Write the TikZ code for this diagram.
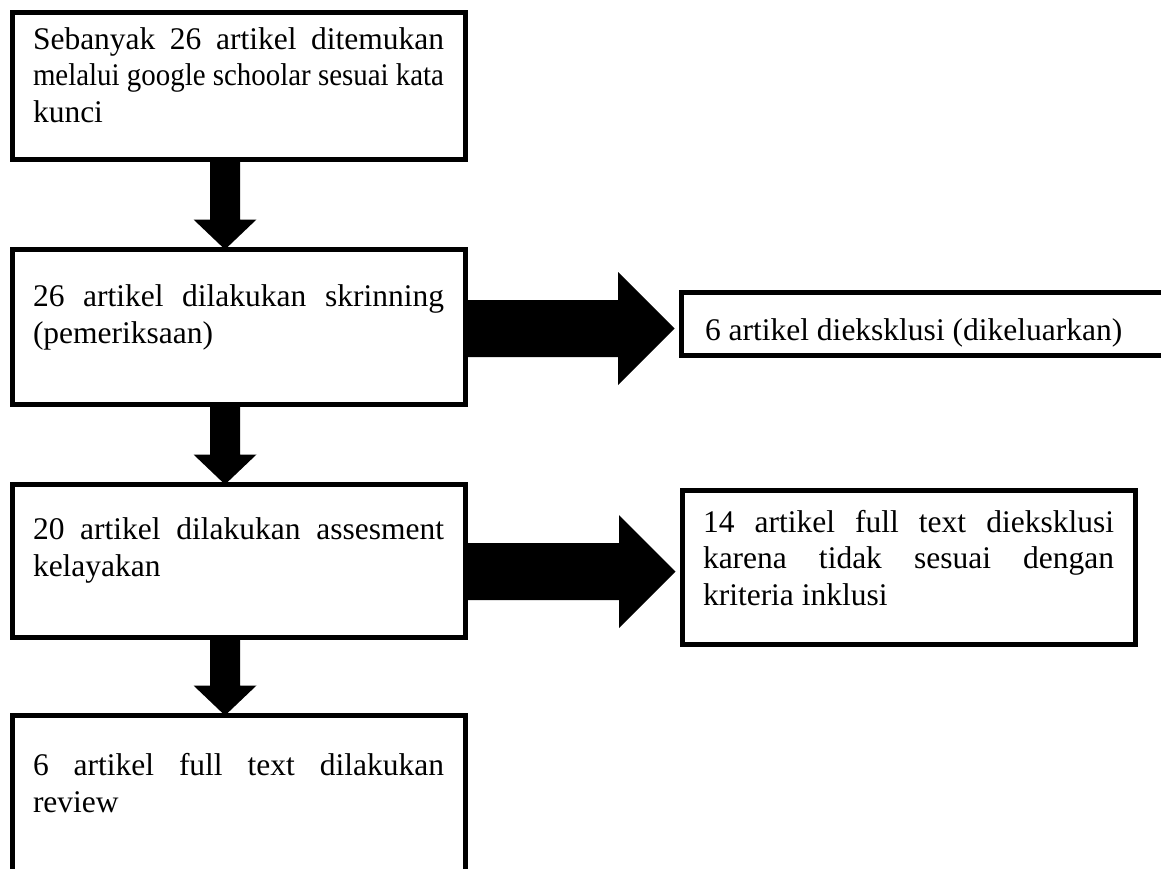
\documentclass[tikz,border=0pt]{standalone}
\usepackage{fontspec}
\usepackage{graphicx}
\setmainfont{Liberation Serif}
\usetikzlibrary{positioning,calc}
\hyphenpenalty=10000
\exhyphenpenalty=10000
\tolerance=9999
\hbadness=10000
\vbadness=10000
\newcommand{\boxtext}[4][t]{\parbox[c][#3][#1]{#2}{\spaceskip=.25em plus .2em minus .12em\strut #4}}

\begin{document}
\begin{tikzpicture}[
    x=1pt, y=-1pt,
    box/.style={rectangle, draw, line width=5pt, inner sep=0pt, outer sep=0pt,
        minimum width=453pt, font=\fontsize{31.5}{36.5}\selectfont},
    blockdown/.style={to path={
        ($(\tikztostart)+(-15,0)$) -- ($(\tikztotarget)+(-15,-30)$)
        -- ($(\tikztotarget)+(-31.5,-30)$) -- (\tikztotarget)
        -- ($(\tikztotarget)+(31.5,-30)$) -- ($(\tikztotarget)+(15,-30)$)
        -- ($(\tikztostart)+(15,0)$) -- cycle}},
    blockright/.style={to path={
        ($(\tikztostart)+(0,-28.5)$) -- ($(\tikztotarget)+(-63,-28.5)$)
        -- ($(\tikztotarget)+(-63,-56.5)$) -- ($(\tikztotarget)+(-6.5,0)$)
        -- ($(\tikztotarget)+(-63,56.5)$) -- ($(\tikztotarget)+(-63,28.5)$)
        -- ($(\tikztostart)+(0,28.5)$) -- cycle}}
]
    \path[use as bounding box, clip] (0,0) rectangle (1161,868);

    % main column
    \node[box, anchor=north west, minimum height=147pt] (find) at (12,12)
        {\boxtext{411pt}{124pt}{Sebanyak 26 artikel ditemukan\linebreak
        \resizebox{\linewidth}{\height}{melalui google schoolar sesuai kata}\linebreak kunci}};
    \node[box, minimum height=155pt, below=90.5pt of find] (skrin)
        {\boxtext{411pt}{92pt}{26 artikel dilakukan skrinning (pemeriksaan)}};
    \node[box, minimum height=153pt, below=80pt of skrin] (asses)
        {\boxtext{411pt}{94pt}{20 artikel dilakukan assesment kelayakan}};
    \node[box, minimum height=200pt, below=78pt of asses] (review)
        {\boxtext{411pt}{131pt}{6 artikel full text dilakukan review}};

    % excluded
    \node[box, minimum width=530pt, minimum height=63.5pt, right=216pt of skrin, yshift=3.25pt] (eks1)
        {\boxtext[b]{482pt}{44.4pt}{6 artikel dieksklusi (dikeluarkan)}};
    \node[box, minimum height=154.5pt, right=217pt of asses, yshift=-6.25pt] (eks2)
        {\boxtext{411pt}{121.6pt}{14 artikel full text dieksklusi karena tidak sesuai dengan kriteria inklusi}};

    \coordinate (spine) at (225,0);
    \coordinate (row1) at (0,328.5);
    \coordinate (row2) at (0,571.5);

    \fill[blockdown] (find.south -| spine) to (skrin.north -| spine);
    \fill[blockdown] (skrin.south -| spine) to (asses.north -| spine);
    \fill[blockdown] (asses.south -| spine) to (review.north -| spine);
    \fill[blockright] (skrin.east |- row1) to (eks1.west |- row1);
    \fill[blockright] (asses.east |- row2) to (eks2.west |- row2);
\end{tikzpicture}
\end{document}
